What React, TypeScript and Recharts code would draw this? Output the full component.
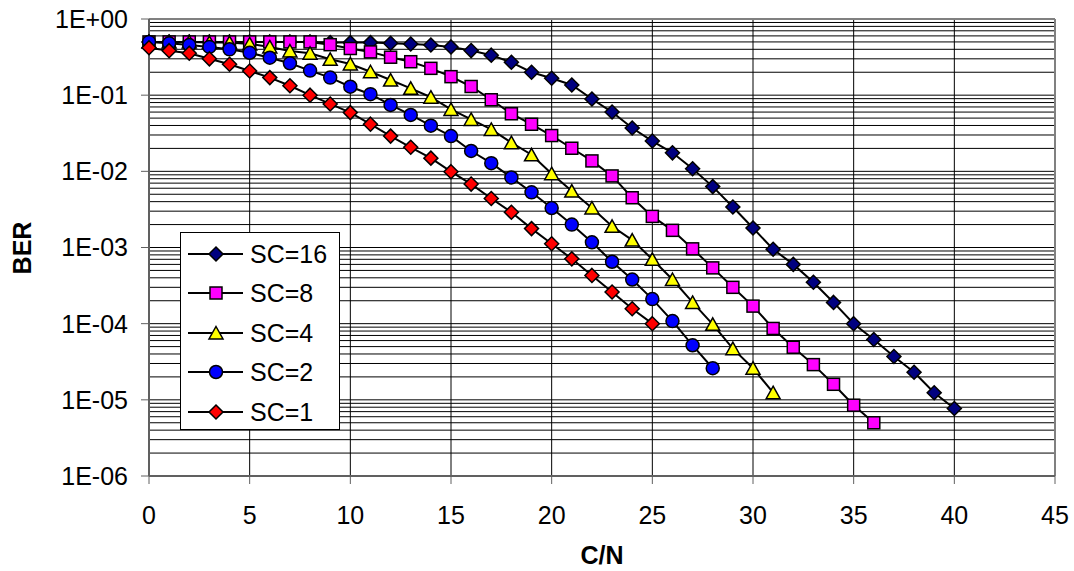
import { CartesianGrid, Legend, Line, LineChart, ReferenceLine, XAxis, YAxis } from "recharts";

const cn = [
    0, 1, 2, 3, 4, 5, 6, 7, 8, 9, 10, 11, 12, 13, 14, 15, 16, 17, 18, 19, 20, 21, 22, 23, 24, 25, 26, 27, 28, 29, 30, 31, 32, 33, 34, 35, 36, 37, 38, 39, 40,
];

const ber16 = [
    0.5, 0.5, 0.5, 0.5, 0.5, 0.5, 0.5, 0.5, 0.5, 0.49, 0.49, 0.49, 0.48, 0.47, 0.455, 0.43, 0.385, 0.335, 0.27, 0.2, 0.167, 0.136, 0.089, 0.06, 0.037,
    0.025, 0.0175, 0.0108, 0.0063, 0.0034, 0.0018, 0.00095, 0.0006, 0.00035, 0.00019, 0.0001, 0.000062, 0.000037, 0.000023, 0.0000124, 0.0000077,
];
const ber8 = [
    0.5, 0.5, 0.5, 0.5, 0.5, 0.5, 0.5, 0.5, 0.5, 0.46, 0.41, 0.37, 0.315, 0.275, 0.225, 0.175, 0.13, 0.087, 0.057, 0.0415, 0.0295, 0.0201, 0.0137,
    0.0087, 0.0045, 0.00256, 0.00168, 0.00096, 0.00054, 0.0003, 0.00017, 0.0000865, 0.000049, 0.000029, 0.000016, 0.0000085, 0.000005,
];
const ber4 = [
    0.5, 0.5, 0.5, 0.49, 0.49, 0.47, 0.43, 0.38, 0.355, 0.296, 0.257, 0.203, 0.158, 0.123, 0.094, 0.065, 0.048, 0.0355, 0.0238, 0.0165, 0.0093, 0.0055,
    0.0033, 0.0019, 0.00125, 0.0007, 0.00038, 0.00019, 0.000098, 0.000047, 0.000026, 0.0000124,
];
const ber2 = [
    0.5, 0.48, 0.455, 0.43, 0.4, 0.36, 0.31, 0.262, 0.21, 0.17, 0.129, 0.103, 0.0744, 0.055, 0.0398, 0.029, 0.0185, 0.0128, 0.0083, 0.0053, 0.0033,
    0.002, 0.00117, 0.00065, 0.00038, 0.00021, 0.000108, 0.000052, 0.000026,
];
const ber1 = [
    0.42, 0.384, 0.355, 0.3, 0.255, 0.208, 0.17, 0.133, 0.1, 0.0767, 0.059, 0.0416, 0.029, 0.0207, 0.0149, 0.0099, 0.0068, 0.0044, 0.0029, 0.00177,
    0.00112, 0.00071, 0.00043, 0.00026, 0.000157, 0.0001,
];

const xTicks = [0, 5, 10, 15, 20, 25, 30, 35, 40, 45];
const yTicks = [1, 0.1, 0.01, 0.001, 0.0001, 0.00001, 0.000001];
const yTickLabels = ["1E+00", "1E-01", "1E-02", "1E-03", "1E-04", "1E-05", "1E-06"];
const minorSteps = [2, 3, 4, 5, 6, 7, 8, 9];

type Shape = "diamond" | "square" | "triangle" | "circle";

const series: { name: string; values: number[]; shape: Shape; color: string }[] = [
    { name: "SC=16", values: ber16, shape: "diamond", color: "#000080" },
    { name: "SC=8", values: ber8, shape: "square", color: "#FF00FF" },
    { name: "SC=4", values: ber4, shape: "triangle", color: "#FFFF00" },
    { name: "SC=2", values: ber2, shape: "circle", color: "#0000FF" },
    { name: "SC=1", values: ber1, shape: "diamond", color: "#FF0000" },
];

const font = '"Liberation Sans", Arial, sans-serif';

// minor log grid lines: 2..9 x each decade
const minorLines = yTicks.slice(1).flatMap((d) => minorSteps.map((m) => m * d));

const Marker = ({ shape, cx, cy, fill }: { shape: Shape; cx: number; cy: number; fill: string }) => {
    const common = { fill, stroke: "#000", strokeWidth: 1.5 };
    if (shape === "circle") return <circle cx={cx} cy={cy} r={6.5} {...common} />;
    if (shape === "square") return <rect x={cx - 6} y={cy - 6} width={12} height={12} {...common} />;
    if (shape === "triangle") return <path d={`M${cx},${cy - 6.5}L${cx + 7},${cy + 6}L${cx - 7},${cy + 6}Z`} {...common} />;
    return <path d={`M${cx},${cy - 7}L${cx + 7},${cy}L${cx},${cy + 7}L${cx - 7},${cy}Z`} {...common} />;
};

const renderDot = (shape: Shape, color: string) => (props: any) => {
    const { cx, cy, index } = props;
    if (cx == null || cy == null) return <g key={`d${index}`} />;
    return <Marker key={`d${index}`} shape={shape} cx={cx} cy={cy} fill={color} />;
};

const LegendBox = () => (
    <div
        style={{
            width: 160,
            height: 198,
            boxSizing: "border-box",
            border: "1px solid #000",
            background: "#fff",
            position: "relative",
            fontFamily: font,
        }}
    >
        {series.map((s, i) => (
            <div key={s.name} style={{ position: "absolute", left: 0, top: 21 + i * 39.4 - 20, height: 40, display: "flex", alignItems: "center" }}>
                <svg width={67} height={40}>
                    <line x1={7} x2={62} y1={20} y2={20} stroke="#000" strokeWidth={2} />
                    <Marker shape={s.shape} cx={35} cy={20} fill={s.color} />
                </svg>
                <span style={{ fontSize: 25, marginLeft: 2, color: "#000", lineHeight: "40px" }}>{s.name}</span>
            </div>
        ))}
    </div>
);

export default function App() {
    return (
        <div style={{ width: 1074, height: 571, background: "#fff" }}>
            <style>{"body{margin:0}"}</style>
            <LineChart width={1074} height={571} margin={{ top: 19, right: 19, bottom: 0, left: 0 }}>
                <CartesianGrid stroke="#000" strokeWidth={1} />
                {minorLines.map((v) => (
                    <ReferenceLine key={v} y={v} stroke="#000" strokeWidth={1} />
                ))}
                <ReferenceLine y={1} stroke="#808080" strokeWidth={2} />
                <ReferenceLine x={45} stroke="#808080" strokeWidth={2} />
                <XAxis
                    type="number"
                    dataKey="x"
                    domain={[0, 45]}
                    ticks={xTicks}
                    interval={0}
                    height={95}
                    tickSize={8}
                    tickMargin={22}
                    axisLine={{ stroke: "#606060", strokeWidth: 2 }}
                    tickLine={{ stroke: "#606060", strokeWidth: 1 }}
                    tick={{ fontSize: 25, fill: "#000", fontFamily: font }}
                />
                <YAxis
                    type="number"
                    scale="log"
                    domain={[0.000001, 1]}
                    ticks={yTicks}
                    interval={0}
                    width={149}
                    tickSize={8}
                    tickMargin={13}
                    tickFormatter={(v: number) => yTickLabels[yTicks.findIndex((t) => Math.abs(t - v) < t * 1e-6)] ?? ""}
                    axisLine={{ stroke: "#606060", strokeWidth: 2 }}
                    tickLine={{ stroke: "#606060", strokeWidth: 1 }}
                    tick={{ fontSize: 25, fill: "#000", fontFamily: font }}
                />
                {series.map((s) => (
                    <Line
                        key={s.name}
                        name={s.name}
                        data={s.values.map((v, i) => ({ x: cn[i], y: v }))}
                        dataKey="y"
                        type="linear"
                        stroke="#000"
                        strokeWidth={2}
                        dot={renderDot(s.shape, s.color)}
                        activeDot={false}
                        isAnimationActive={false}
                    />
                ))}
                <Legend
                    layout="vertical"
                    align="center"
                    verticalAlign="middle"
                    content={() => <LegendBox />}
                    wrapperStyle={{ left: 180, top: 232, width: 160, height: 198 }}
                />
                <text x={22} y={248} transform="rotate(-90 22 248)" textAnchor="middle" dominantBaseline="central" fontSize={25} fontWeight="bold" fontFamily={font}>
                    BER
                </text>
                <text x={602} y={555} textAnchor="middle" dominantBaseline="central" fontSize={25} fontWeight="bold" fontFamily={font}>
                    C/N
                </text>
            </LineChart>
        </div>
    );
}
